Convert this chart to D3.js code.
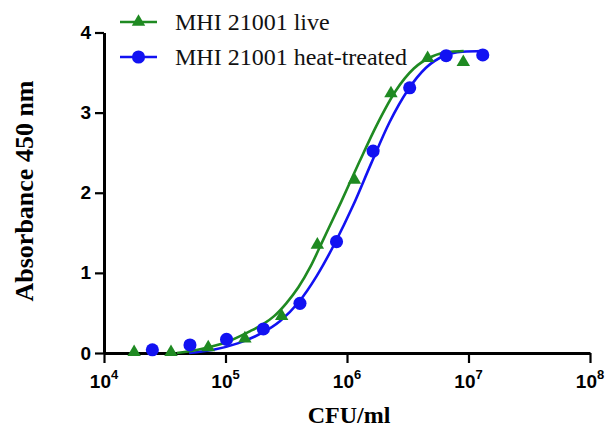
<!DOCTYPE html>
<html>
<head>
    <meta charset="UTF-8">
    <title>Absorbance vs CFU</title>
    <script src="https://d3js.org/d3.v7.min.js"></script>
    <style>
        body { margin: 0; background: white; }
    </style>
</head>
<body>
<div id="chart"></div>
<script>
    // legend / series names
    var seriesNames = ["MHI 21001 live", "MHI 21001 heat-treated"];

    // measured points (CFU/ml, absorbance)
    var liveCfu = [17700, 35600, 72100, 144500, 290000, 570000, 1150000, 2300000, 4610000, 9060000];
    var liveAbs = [0.01, 0.01, 0.07, 0.18, 0.46, 1.35, 2.16, 3.24, 3.68, 3.63];
    var heatCfu = [25000, 51000, 102000, 205000, 410000, 820000, 1640000, 3280000, 6550000, 13100000];
    var heatAbs = [0.04, 0.10, 0.17, 0.30, 0.62, 1.39, 2.52, 3.31, 3.71, 3.72];

    // fitted curves (log10 CFU, absorbance)
    var liveFitLog = [4.60, 4.80, 5.00, 5.20, 5.30, 5.40, 5.50, 5.60, 5.70, 5.80, 5.95, 6.10, 6.25, 6.40, 6.55, 6.70, 6.85, 6.96];
    var liveFitAbs = [0.00, 0.05, 0.13, 0.27, 0.35, 0.46, 0.62, 0.82, 1.08, 1.40, 1.88, 2.38, 2.86, 3.27, 3.55, 3.70, 3.76, 3.77];
    var heatFitLog = [4.70, 4.90, 5.10, 5.30, 5.45, 5.60, 5.75, 5.90, 6.05, 6.20, 6.35, 6.50, 6.65, 6.80, 6.95, 7.117];
    var heatFitAbs = [0.00, 0.04, 0.12, 0.25, 0.40, 0.63, 0.96, 1.37, 1.84, 2.37, 2.88, 3.28, 3.56, 3.71, 3.76, 3.77];

    // axis ticks
    var xMajor = [1e4, 1e5, 1e6, 1e7, 1e8];
    var xExponents = ["4", "5", "6", "7", "8"];
    var yTicks = [0, 1, 2, 3, 4];

    var green = "#1f8a22";
    var blue = "#1212f2";

    var width = 610, height = 431;

    var svg = d3.select("#chart").append("svg")
        .attr("width", width)
        .attr("height", height);

    svg.append("rect").attr("width", width).attr("height", height).attr("fill", "white");

    var x = d3.scaleLog().domain([1e4, 1e8]).range([104, 590]);
    var y = d3.scaleLinear().domain([0, 4]).range([353, 32.5]);

    // minor ticks 2..9 in each decade
    var xMinor = [];
    for (var k = 4; k < 8; k++) {
        for (var m = 2; m <= 9; m++) xMinor.push(m * Math.pow(10, k));
    }

    // x axis
    var gx = svg.append("g").attr("transform", "translate(0,353)");
    gx.call(d3.axisBottom(x).tickValues(xMinor).tickSize(6).tickSizeOuter(0).tickFormat(""));
    gx.call(d3.axisBottom(x).tickValues(xMajor).tickSize(10).tickSizeOuter(0).tickFormat(""));
    gx.selectAll("path").attr("stroke-width", 3).attr("stroke", "black");
    gx.selectAll("line").attr("stroke-width", 2.2).attr("stroke", "black");

    // x tick labels 10^n
    var xl = svg.append("g").selectAll("text").data(xMajor).enter().append("text")
        .attr("x", function(d) { return x(d); })
        .attr("y", 388)
        .attr("text-anchor", "middle")
        .attr("font-family", "Arial, 'Liberation Sans', sans-serif")
        .attr("font-weight", "bold")
        .attr("font-size", "19px")
        .attr("fill", "black");
    xl.append("tspan").text("10");
    xl.append("tspan").attr("dy", -9).attr("font-size", "13px")
        .text(function(d, i) { return xExponents[i]; });

    // y axis
    var gy = svg.append("g").attr("transform", "translate(104,0)");
    gy.call(d3.axisLeft(y).tickValues(yTicks).tickSize(9).tickSizeOuter(0).tickPadding(4).tickFormat(d3.format("d")));
    gy.selectAll("path").attr("stroke-width", 3).attr("stroke", "black");
    gy.selectAll("line").attr("stroke-width", 2.2).attr("stroke", "black");
    gy.selectAll("text")
        .attr("font-family", "Arial, 'Liberation Sans', sans-serif")
        .attr("font-weight", "bold")
        .attr("font-size", "19px")
        .attr("fill", "black");

    // axis titles
    svg.append("text")
        .attr("transform", "translate(33,191) rotate(-90)")
        .attr("text-anchor", "middle")
        .attr("font-family", "'Times New Roman', 'Liberation Serif', serif")
        .attr("font-weight", "bold")
        .attr("font-size", "26px")
        .text("Absorbance 450 nm");

    svg.append("text")
        .attr("x", 349)
        .attr("y", 423)
        .attr("text-anchor", "middle")
        .attr("font-family", "'Times New Roman', 'Liberation Serif', serif")
        .attr("font-weight", "bold")
        .attr("font-size", "24px")
        .text("CFU/ml");

    // fitted curves
    var line = d3.line()
        .x(function(d) { return x(Math.pow(10, d[0])); })
        .y(function(d) { return y(d[1]); })
        .curve(d3.curveMonotoneX);

    svg.append("path")
        .datum(d3.zip(heatFitLog, heatFitAbs))
        .attr("d", line)
        .attr("fill", "none")
        .attr("stroke", blue)
        .attr("stroke-width", 2.6);

    svg.append("path")
        .datum(d3.zip(liveFitLog, liveFitAbs))
        .attr("d", line)
        .attr("fill", "none")
        .attr("stroke", green)
        .attr("stroke-width", 2.6);

    var tri = d3.symbol().type(d3.symbolTriangle).size(78);
    var circ = d3.symbol().type(d3.symbolCircle).size(135);

    // points
    svg.append("g").selectAll("path").data(d3.zip(heatCfu, heatAbs)).enter().append("path")
        .attr("d", circ)
        .attr("transform", function(d) { return "translate(" + x(d[0]) + "," + y(d[1]) + ")"; })
        .attr("fill", blue);

    svg.append("g").selectAll("path").data(d3.zip(liveCfu, liveAbs)).enter().append("path")
        .attr("d", tri)
        .attr("transform", function(d) { return "translate(" + x(d[0]) + "," + y(d[1]) + ")"; })
        .attr("fill", green);

    // legend
    var legendRows = [
        { name: seriesNames[0], color: green, sym: tri, y: 22 },
        { name: seriesNames[1], color: blue, sym: circ, y: 57 }
    ];
    var lg = svg.append("g").selectAll("g").data(legendRows).enter().append("g");
    lg.append("line")
        .attr("x1", 120).attr("x2", 157)
        .attr("y1", function(d) { return d.y; })
        .attr("y2", function(d) { return d.y; })
        .attr("stroke", function(d) { return d.color; })
        .attr("stroke-width", 2.6);
    lg.append("path")
        .attr("d", function(d) { return d.sym(); })
        .attr("transform", function(d) { return "translate(138.5," + d.y + ")"; })
        .attr("fill", function(d) { return d.color; });
    lg.append("text")
        .attr("x", 175)
        .attr("y", function(d) { return d.y + 8; })
        .attr("font-family", "'Times New Roman', 'Liberation Serif', serif")
        .attr("font-size", "24px")
        .attr("fill", "#111")
        .text(function(d) { return d.name; });
</script>
</body>
</html>
